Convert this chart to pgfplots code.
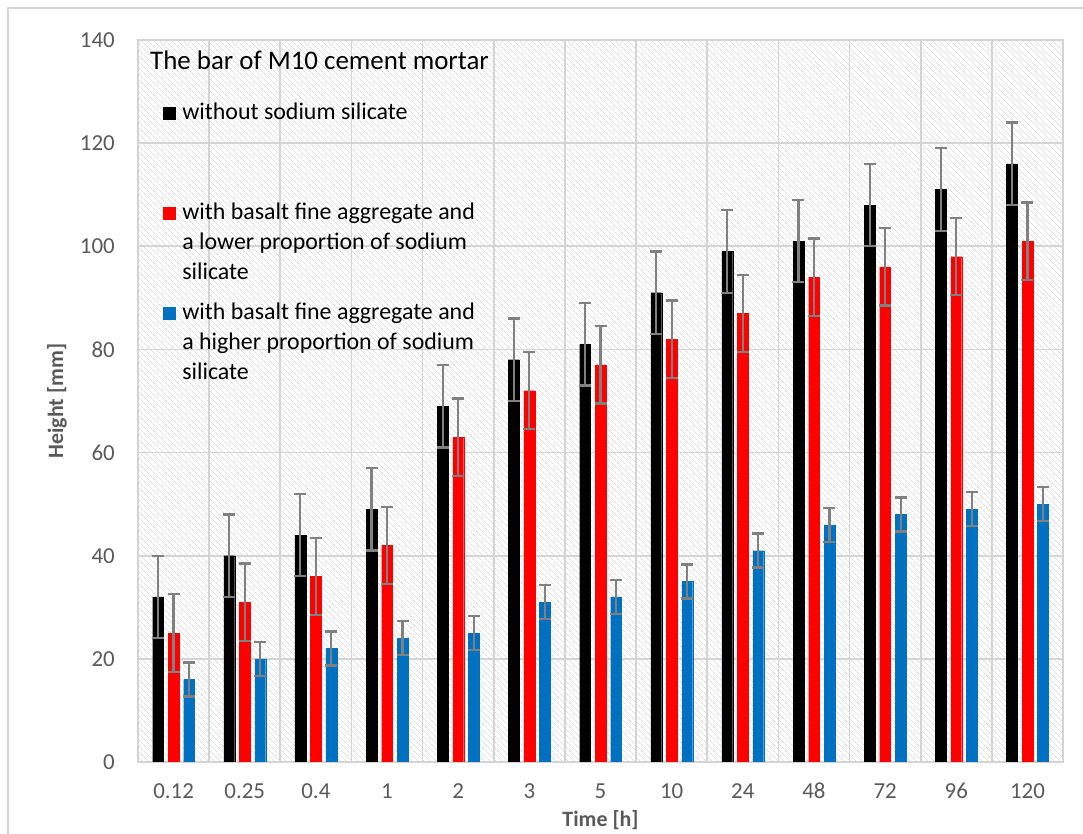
\documentclass[border=0pt]{standalone}
\usepackage{pgfplots}
\pgfplotsset{compat=1.18}
\usepackage{pgfplotstable}
\usepackage{fontspec}
\setmainfont{Carlito}
\usetikzlibrary{patterns.meta}
\definecolor{tickgray}{HTML}{595959}
\definecolor{gridgray}{HTML}{D4D4D4}
\definecolor{hatchgray}{HTML}{DCDCDC}
\definecolor{errgray}{HTML}{808080}
\definecolor{xred}{HTML}{FF0000}
\definecolor{xblue}{HTML}{0070C0}

\pgfplotstableread{
x y e
0 32 8
1 40 8
2 44 8
3 49 8
4 69 8
5 78 8
6 81 8
7 91 8
8 99 8
9 101 8
10 108 8
11 111 8
12 116 8
}\tblack
\pgfplotstableread{
x y e
0 25 7.5
1 31 7.5
2 36 7.5
3 42 7.5
4 63 7.5
5 72 7.5
6 77 7.5
7 82 7.5
8 87 7.5
9 94 7.5
10 96 7.5
11 98 7.5
12 101 7.5
}\tred
\pgfplotstableread{
x y e
0 16 3.3
1 20 3.3
2 22 3.3
3 24 3.3
4 25 3.3
5 31 3.3
6 32 3.3
7 35 3.3
8 41 3.3
9 46 3.3
10 48 3.3
11 49 3.3
12 50 3.3
}\tblue

\pgfplotsset{
  errstyle/.style={
    error bars/.cd, y dir=both, y explicit,
    error bar style={draw=errgray, line width=2.2bp},
    error mark options={draw=errgray, line width=2.2bp, mark size=6bp, rotate=90}},
}

\begin{document}
\begin{tikzpicture}[x=1bp,y=1bp]
\useasboundingbox (-138,-72) rectangle (945,762);
\draw[gridgray, line width=1.5bp] (-130,-90) -- (-130,754) -- (960,754);
\begin{axis}[
  at={(0,0)}, anchor=south west,
  scale only axis, width=925bp, height=722bp,
  ymin=0, ymax=140, ytick={0,20,...,140},
  xmin=-0.5, xmax=12.5,
  xtick={0,...,12},
  xticklabels={0.12,0.25,0.4,1,2,3,5,10,24,48,72,96,120},
  minor xtick={-0.5,0.5,...,12.5},
  ybar, bar width=10.8bp,
  ymajorgrids, xminorgrids,
  grid style={gridgray, line width=1.7bp},
  major tick length=0pt, minor tick length=0pt,
  axis line style={gridgray, line width=1.7bp},
  /pgf/number format/assume math mode=true,
  tick label style={font=\fontsize{23}{27}\selectfont, text=tickgray, inner sep=0pt},
  xticklabel style={anchor=base, yshift=-37bp},
  yticklabel style={anchor=east, xshift=-23bp},
  xlabel={Time [h]},
  ylabel={Height [mm]},
  label style={font=\bfseries\fontsize{22}{26}\selectfont, text=tickgray},
  xlabel style={at={(axis description cs:0.5,0)}, anchor=base, yshift=-64bp},
  ylabel style={at={(axis description cs:0,0.5)}, anchor=center, yshift=81bp},
  axis background/.style={pattern={Lines[angle=-45,distance=3.9bp,line width=0.9bp]}, pattern color=hatchgray},
  legend style={at={(axis description cs:0,1)}, anchor=north west, xshift=25bp, yshift=-57bp,
    draw=none, fill=none, inner sep=0pt, column sep=7bp, row sep=0pt,
    nodes={inner sep=0pt},
    font=\fontsize{24}{30}\selectfont, cells={anchor=base west}},
]
\addplot[fill=black, draw=black, line width=0.1bp, bar shift=-15.5bp,
  legend image code/.code={\fill[black] (0bp,0bp) rectangle (12bp,12bp);},
  errstyle]
  table[x=x, y=y, y error=e] {\tblack};
\addlegendentry[text height=22bp, text depth=78bp]{without sodium silicate}
\addplot[fill=xred, draw=xred, line width=0.1bp, bar shift=0bp,
  legend image code/.code={\fill[xred] (0bp,0bp) rectangle (12bp,12bp);},
  errstyle]
  table[x=x, y=y, y error=e] {\tred};
\addlegendentry[text height=22bp, text depth=8bp]{with basalt fine aggregate and}
\addlegendimage{empty legend}
\addlegendentry[text height=22bp, text depth=8bp]{a lower proportion of sodium}
\addlegendimage{empty legend}
\addlegendentry[text height=22bp, text depth=18bp]{silicate}
\addplot[fill=xblue, draw=xblue, line width=0.1bp, bar shift=15.5bp,
  legend image code/.code={\fill[xblue] (0bp,0bp) rectangle (12bp,12bp);},
  errstyle]
  table[x=x, y=y, y error=e] {\tblue};
\addlegendentry[text height=22bp, text depth=8bp]{with basalt fine aggregate and}
\addlegendimage{empty legend}
\addlegendentry[text height=22bp, text depth=8bp]{a higher proportion of sodium}
\addlegendimage{empty legend}
\addlegendentry[text height=22bp, text depth=8bp]{silicate}
\end{axis}
\node[anchor=base west, font=\fontsize{27}{32}\selectfont, inner sep=0pt] at (12,692) {The bar of M10 cement mortar};
\end{tikzpicture}
\end{document}
